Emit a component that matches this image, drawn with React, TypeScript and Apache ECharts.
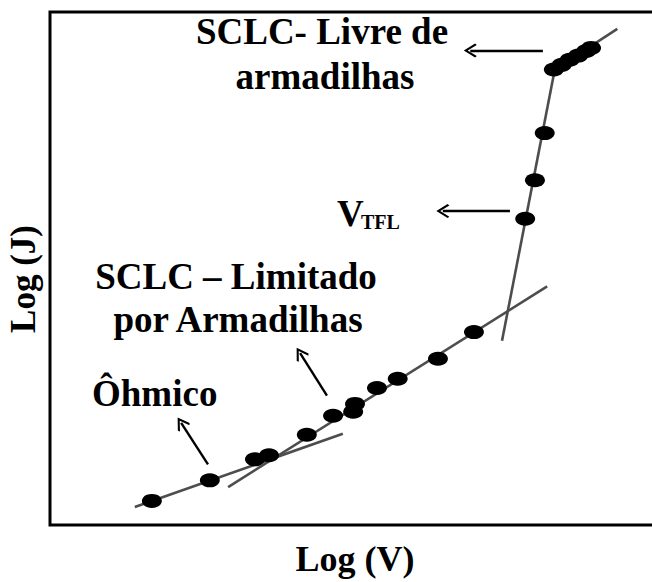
import React, { useEffect, useRef } from "react";
import * as echarts from "echarts";

// Measured points (arbitrary log units: x = Log(V), y = Log(J))
const pointsX = [1.67, 2.62, 3.36, 3.59, 4.21, 4.64, 4.97, 5.0, 5.36, 5.7, 6.36, 6.95, 7.79, 7.95, 8.11, 8.26, 8.39, 8.52, 8.66, 8.79, 8.87];
const pointsY = [0.47, 0.87, 1.28, 1.36, 1.76, 2.13, 2.21, 2.36, 2.67, 2.85, 3.24, 3.76, 5.97, 6.72, 7.64, 8.88, 8.97, 9.07, 9.15, 9.24, 9.3];

// Fitted straight segments [x0, y0, x1, y1]
const ohmicLine = [1.39, 0.35, 4.8, 1.78];
const trapLine = [2.92, 0.74, 8.15, 4.65];
const steepLine = [7.41, 3.59, 8.28, 8.91];
const trapFreeLine = [8.23, 8.84, 9.3, 9.67];

// Arrows [fromX, fromY, toX (head), toY (head)]
const arrowTrapFree = [8.08, 9.25, 6.89, 9.25];
const arrowVtfl = [7.54, 6.12, 6.44, 6.12];
const arrowOhmic = [2.59, 1.18, 2.15, 1.99];
const arrowTrap = [4.54, 2.52, 4.1, 3.35];

const FONT = '"Liberation Serif", "Times New Roman", serif';
const chevron = "path://M0,0 L10,13 L8,15 L0,4.5 L-8,15 L-10,13 Z";

export default function App() {
  const ref = useRef<HTMLDivElement>(null);
  useEffect(() => {
    if (!ref.current) return;
    const chart = echarts.init(ref.current, undefined, { renderer: "svg" });
    const seg = (s: number[]) => [
      [s[0], s[1]],
      [s[2], s[3]],
    ];
    const lineSeries = (s: number[]) => ({
      type: "line",
      data: seg(s),
      showSymbol: false,
      symbol: "none",
      lineStyle: { color: "#4d4d4d", width: 2.6 },
      z: 2,
      silent: true,
    });
    const arrow = (a: number[]) => [{ coord: [a[0], a[1]] }, { coord: [a[2], a[3]] }];
    const txt = (text: string, x: number, y: number, size: number, align = "left", extra: any = {}) => ({
      type: "text",
      x,
      y,
      ...extra,
      style: {
        text,
        fill: "#000",
        font: `bold ${size}px ${FONT}`,
        align,
        verticalAlign: extra.va || "top",
      },
    });
    chart.setOption({
      animation: false,
      backgroundColor: "#fff",
      grid: {
        left: 50,
        top: 12,
        right: 0,
        bottom: 54,
        show: true,
        borderColor: "#000",
        borderWidth: 3,
      },
      xAxis: {
        type: "value",
        min: 0,
        max: 10,
        name: "Log (V)",
        nameLocation: "middle",
        nameGap: 16,
        nameTextStyle: { fontFamily: FONT, fontWeight: "bold", fontSize: 36, color: "#000", verticalAlign: "top" },
        axisLine: { show: false },
        axisTick: { show: false },
        axisLabel: { show: false },
        splitLine: { show: false },
      },
      yAxis: {
        type: "value",
        min: 0,
        max: 10,
        axisLine: { show: false },
        axisTick: { show: false },
        axisLabel: { show: false },
        splitLine: { show: false },
      },
      series: [
        lineSeries(ohmicLine),
        lineSeries(trapLine),
        lineSeries(steepLine),
        lineSeries(trapFreeLine),
        {
          type: "scatter",
          data: pointsX.map((x, i) => [x, pointsY[i]]),
          symbol: "circle",
          symbolSize: [20, 14],
          itemStyle: { color: "#000", opacity: 1 },
          z: 3,
          silent: true,
          markLine: {
            silent: true,
            animation: false,
            symbol: ["none", chevron],
            symbolSize: [14, 13],
            label: { show: false },
            lineStyle: { color: "#000", width: 2.4, type: "solid", opacity: 1 },
            data: [arrow(arrowTrapFree), arrow(arrowVtfl), arrow(arrowOhmic), arrow(arrowTrap)],
          },
        },
      ],
      graphic: [
        txt("SCLC- Livre de", 322, 13, 37, "center"),
        txt("armadilhas", 325, 58, 37, "center"),
        txt("V", 337, 195, 37),
        txt("TFL", 361, 212, 20),
        txt("SCLC – Limitado", 236, 258, 37, "center"),
        txt("por Armadilhas", 238, 301, 37, "center"),
        txt("Ôhmico", 92, 375, 37),
        txt("Log (J)", 23, 279, 35, "center", { rotation: Math.PI / 2, va: "middle" }),
      ],
    });
    return () => chart.dispose();
  }, []);
  return <div ref={ref} style={{ position: "fixed", left: 0, top: 0, width: 660, height: 582 }} />;
}
